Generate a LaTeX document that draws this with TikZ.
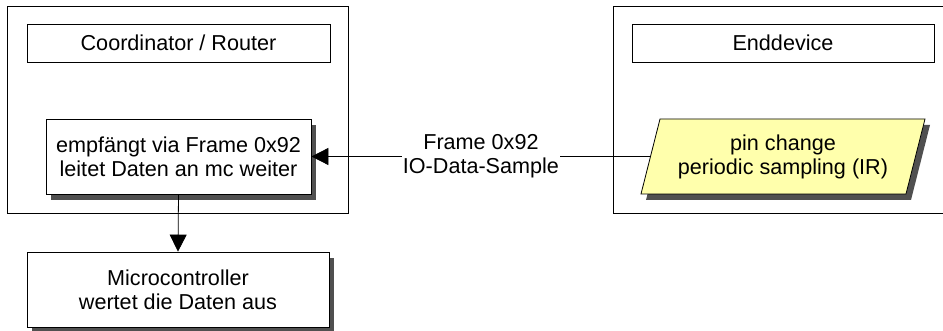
\documentclass[tikz,border=0pt]{standalone}
\usepackage{fontspec}
\setmainfont{Liberation Sans}
\usetikzlibrary{arrows.meta,shadows}
\definecolor{shadowgray}{RGB}{80,80,80}
\definecolor{paleyellow}{RGB}{255,255,172}
\begin{document}
\begin{tikzpicture}[x=1pt,y=-1pt,
  every node/.style={font=\fontsize{21.6}{24}\selectfont, align=center, inner sep=0pt},
  container/.style={draw, line width=0.8pt},
  plainbox/.style={draw, line width=0.8pt, fill=white},
  shadowbox/.style={draw, line width=0.8pt, fill=white,
    general shadow={fill=shadowgray, shadow xshift=5pt, shadow yshift=-6pt}},
  conn/.style={line width=0.8pt, -{Triangle[length=17pt,width=17pt]}},
  lbl/.style={fill=white, inner xsep=1pt, inner ysep=2pt}
]
\useasboundingbox (0,0) rectangle (943,331);
% containers
\draw[container] (7.5,6) rectangle (348,213);
\draw[container] (613,6) rectangle (960,213);
% header boxes
\node[plainbox, minimum width=303pt, minimum height=38pt] (coord) at (178.5,43) {Coordinator / Router};
\node[plainbox, minimum width=302pt, minimum height=38pt] (endd) at (783,43) {Enddevice};
% receiver box
\node[shadowbox, minimum width=265pt, minimum height=75pt] (recv) at (178.5,156.5) {empfängt via Frame 0x92\\leitet Daten an mc weiter};
% microcontroller
\node[shadowbox, minimum width=302pt, minimum height=75pt] (micro) at (178,289.5) {Microcontroller\\wertet die Daten aus};
% parallelogram (enddevice sampling)
\filldraw[line width=0.8pt, fill=paleyellow,
  general shadow={fill=shadowgray, shadow xshift=5pt, shadow yshift=-6pt}]
  (641,194) -- (660,119) -- (925,119) -- (906,194) -- cycle;
\node (samp) at (783,156.5) {pin change\\periodic sampling (IR)};
\coordinate (sampL) at (650.5,156.5);
% connectors
\draw[conn] (sampL) -- node[lbl] (flbl) {Frame 0x92\\IO-Data-Sample} (recv.east);
\draw[conn] (recv.south) -- (micro.north);
\end{tikzpicture}
\end{document}
